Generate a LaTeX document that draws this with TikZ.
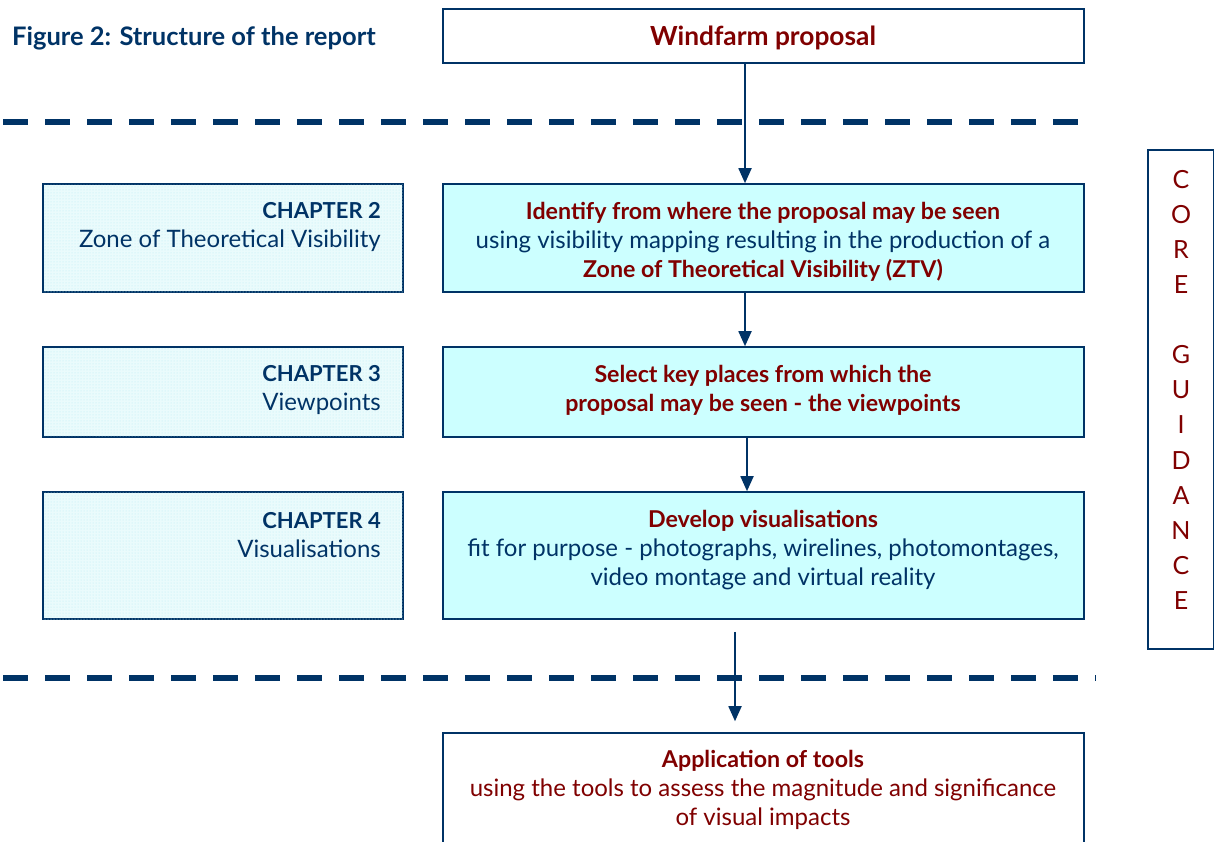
\documentclass[tikz,border=0pt]{standalone}
\usepackage{fontspec}
\setmainfont{Lato}
\usetikzlibrary{patterns,arrows.meta}
\definecolor{navy}{HTML}{003366}
\definecolor{maroon}{HTML}{800000}
\definecolor{lcyan}{HTML}{CCFFFF}
\definecolor{pcyan}{HTML}{EAFBFC}
\definecolor{dcyan}{HTML}{B8EEF4}
\newcommand{\hdf}{\fontsize{23.2}{29}\selectfont\bfseries}
\tikzset{
  box/.style={draw=navy, line width=1.6pt, minimum width=641pt, inner sep=0pt},
  mainbox/.style={box, fill=lcyan},
  chapbox/.style={draw=navy, line width=1.6pt, minimum width=360pt, inner sep=0pt, fill=pcyan, postaction={pattern=dots, pattern color=dcyan}},
  arr/.style={draw=navy, line width=1.8pt, -{Triangle[length=15pt,width=13pt]}},
  sep/.style={draw=navy, line width=5.5pt, dash pattern=on 25pt off 17pt},
  txt/.style={font=\fontsize{24}{29}\selectfont, align=center, inner sep=0pt},
}
\begin{document}
\begin{tikzpicture}[x=1pt,y=-1pt]
\useasboundingbox[fill=white] (0,0) rectangle (1214,841);
% title
\node[anchor=west, inner sep=0pt, text=navy, font=\fontsize{25.5}{28}\selectfont\bfseries] (title) at (12,38) {Figure 2: Structure of the report};
% boxes
\node[box, fill=white, minimum height=54pt] (wind) at (763.5,36) {};
\node[mainbox, minimum height=108pt] (b1) at (763.5,238) {};
\node[mainbox, minimum height=90pt] (b2) at (763.5,392) {};
\node[mainbox, minimum height=127pt] (b3) at (763.5,555.5) {};
\node[box, fill=white, minimum height=120pt] (b4) at (763.5,793) {};
\node[chapbox, minimum height=108pt] (c1) at (223,238) {};
\node[chapbox, minimum height=90pt] (c2) at (223,392) {};
\node[chapbox, minimum height=127pt] (c3) at (223,555.5) {};
\node[draw=navy, line width=1.6pt, minimum width=66pt, minimum height=499pt, inner sep=0pt] (core) at (1181,399.5) {};
% texts
\node[txt, text=maroon, font=\fontsize{26.3}{29}\selectfont\bfseries] (t0) at (763,38) {Windfarm proposal};
\node[txt, text=navy] (t1) at (763,242) {{\color{maroon}\hdf Identify from where the proposal may be seen}\\using visibility mapping resulting in the production of a\\{\color{maroon}\hdf Zone of Theoretical Visibility (ZTV)}};
\node[txt, text=maroon, font=\hdf] (t2) at (763,390.5) {Select key places from which the\\proposal may be seen - the viewpoints};
\node[txt, text=navy] (t3) at (763,550) {{\color{maroon}\hdf Develop visualisations}\\fit for purpose - photographs, wirelines, photomontages,\\video montage and virtual reality};
\node[txt, text=maroon] (t4) at (763,790) {{\hdf Application of tools}\\using the tools to assess the magnitude and significance\\of visual impacts};
\node[txt, text=navy, anchor=east, align=right] (ct1) at (381,227.5) {{\fontsize{22}{29}\selectfont\bfseries CHAPTER 2}\\Zone of Theoretical Visibility};
\node[txt, text=navy, anchor=east, align=right] (ct2) at (381,390.5) {{\fontsize{22}{29}\selectfont\bfseries CHAPTER 3}\\Viewpoints};
\node[txt, text=navy, anchor=east, align=right] (ct3) at (381,535.5) {{\fontsize{22}{29}\selectfont\bfseries CHAPTER 4}\\Visualisations};
% core guidance letters
\foreach \l/\y [count=\i] in {C/180,O/215,R/250,E/285,G/355,U/390,I/425,D/461,A/496,N/531,C/566,E/601}{
  \node[inner sep=0pt, text=maroon, font=\fontsize{25}{25}\selectfont] (g\i) at (1181,\y) {\l};
}
% dashed separators
\coordinate (s1a) at (3,122); \coordinate (s1b) at (1080,122);
\coordinate (s2a) at (3,678); \coordinate (s2b) at (1096,678);
\draw[sep] (s1a) -- (s1b);
\draw[sep] (s2a) -- (s2b);
% arrows
\draw[arr] (745,0 |- wind.south) -- (745,0 |- b1.north);
\draw[arr] (745,0 |- b1.south) -- (745,0 |- b2.north);
\draw[arr] (747,0 |- b2.south) -- (747,0 |- b3.north);
\draw[arr, shorten <=12pt, shorten >=11pt] (735,0 |- b3.south) -- (735,0 |- b4.north);
\end{tikzpicture}
\end{document}
